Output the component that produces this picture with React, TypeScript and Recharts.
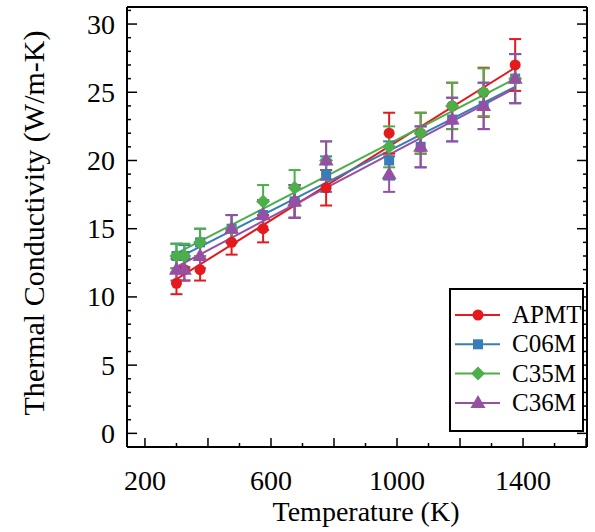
import React from 'react';
import {
  ComposedChart,
  Line,
  Scatter,
  ErrorBar,
  XAxis,
  YAxis,
  Legend,
} from 'recharts';

// temperatures (K)
const temps = [300, 325, 375, 475, 575, 675, 775, 975, 1075, 1175, 1275, 1375];

// thermal conductivity (W/m-K) and error half-widths
const apmt = [11, 12, 12, 14, 15, 17, 18, 22, 22, 24, 25, 27];
const apmtErr = [0.8, 0.8, 0.8, 0.9, 1.0, 1.2, 1.3, 1.5, 1.5, 1.7, 1.8, 1.9];
const c06m = [13, 13, 14, 15, 16, 17, 19, 20, 21, 23, 24, 26];
const c06mErr = [0.9, 0.8, 1.0, 1.0, 1.1, 1.2, 1.3, 1.4, 1.5, 1.6, 1.7, 1.8];
const c35m = [13, 13, 14, 15, 17, 18, 20, 21, 22, 24, 25, 26];
const c35mErr = [0.9, 0.9, 1.0, 1.0, 1.2, 1.3, 1.4, 1.5, 1.5, 1.7, 1.75, 1.8];
const c36m = [12, 12, 13, 15, 16, 17, 20, 19, 21, 23, 24, 26];
const c36mErr = [0.8, 0.8, 0.9, 1.0, 1.1, 1.2, 1.4, 1.3, 1.5, 1.6, 1.7, 1.8];

// linear fit end points
const fitX = [300, 1375];
const apmtFit = [11.3, 26.8];
const c06mFit = [12.8, 25.4];
const c35mFit = [13.2, 26.0];
const c36mFit = [12.2, 25.3];

// axis ticks
const xTicks = [200, 300, 400, 500, 600, 700, 800, 900, 1000, 1100, 1200, 1300, 1400, 1500, 1600];
const xLabels = [200, 600, 1000, 1400];
const yTicks = Array.from({ length: 32 }, (_, i) => i);
const yLabels = [0, 5, 10, 15, 20, 25, 30];

const FONT = "'Liberation Serif', 'Times New Roman', Times, serif";

const series = [
  { name: 'APMT', color: '#E41A1C', values: apmt, errs: apmtErr, fit: apmtFit, shape: 'circle' },
  { name: 'C06M', color: '#377EB8', values: c06m, errs: c06mErr, fit: c06mFit, shape: 'square' },
  { name: 'C35M', color: '#4DAF4A', values: c35m, errs: c35mErr, fit: c35mFit, shape: 'diamond' },
  { name: 'C36M', color: '#984EA3', values: c36m, errs: c36mErr, fit: c36mFit, shape: 'triangle' },
].map((s) => ({
  ...s,
  points: temps.map((t, i) => ({ x: t, y: s.values[i], err: s.errs[i] })),
  fitData: fitX.map((t, i) => ({ x: t, y: s.fit[i] })),
}));

const Marker = ({ shape, color, cx, cy }: any) => {
  if (cx == null || cy == null) return null;
  if (shape === 'circle') return <circle cx={cx} cy={cy} r={5.5} fill={color} />;
  if (shape === 'square') return <rect x={cx - 5} y={cy - 5} width={10} height={10} fill={color} />;
  if (shape === 'diamond')
    return <polygon points={`${cx},${cy - 7} ${cx + 7},${cy} ${cx},${cy + 7} ${cx - 7},${cy}`} fill={color} />;
  return <polygon points={`${cx},${cy - 8} ${cx + 7.5},${cy + 5} ${cx - 7.5},${cy + 5}`} fill={color} />;
};

const BottomTick = ({ x, y, payload }: any) => {
  const v = payload.value;
  const len = v % 200 === 0 ? 9 : 4;
  return (
    <g>
      <line x1={x} x2={x} y1={y} y2={y - len} stroke="#000" strokeWidth={1.5} />
      {xLabels.includes(v) && (
        <text x={x} y={y + 43} textAnchor="middle" fontSize={28} style={{ fontFamily: FONT }} fill="#000">
          {v}
        </text>
      )}
    </g>
  );
};

const TopTick = ({ x, y, payload }: any) => {
  const len = payload.value % 200 === 0 ? 9 : 4;
  return <line x1={x} x2={x} y1={y} y2={y + len} stroke="#000" strokeWidth={1.5} />;
};

const LeftTick = ({ x, y, payload }: any) => {
  const v = payload.value;
  const major = v % 5 === 0;
  return (
    <g>
      <line x1={x} x2={x + (major ? 10 : 4)} y1={y} y2={y} stroke="#000" strokeWidth={1.5} />
      {major && yLabels.includes(v) && (
        <text x={x - 12} y={y + 9.5} textAnchor="end" fontSize={28} style={{ fontFamily: FONT }} fill="#000">
          {v}
        </text>
      )}
    </g>
  );
};

const RightTick = ({ x, y, payload }: any) => {
  const len = payload.value % 5 === 0 ? 10 : 4;
  return <line x1={x} x2={x - len} y1={y} y2={y} stroke="#000" strokeWidth={1.5} />;
};

const LegendBox = () => (
  <svg width={135} height={144} style={{ display: 'block' }}>
    <rect x={1} y={1} width={133} height={142} fill="#fff" stroke="#000" strokeWidth={2} />
    {series.map((s, i) => {
      const cy = 27 + i * 29.3;
      return (
        <g key={s.name}>
          <line x1={6} x2={51} y1={cy} y2={cy} stroke={s.color} strokeWidth={2} />
          <Marker shape={s.shape} color={s.color} cx={29} cy={cy} />
          <text x={63} y={cy + 8} fontSize={25} style={{ fontFamily: FONT }} fill="#000">
            {s.name}
          </text>
        </g>
      );
    })}
  </svg>
);

export default function App() {
  return (
    <div style={{ position: 'absolute', left: 0, top: 0, background: '#fff', fontFamily: FONT }}>
      <ComposedChart
        width={595}
        height={532}
        margin={{ top: 6, right: 7, bottom: 0, left: 0 }}
        style={{ fontFamily: FONT }}
      >
        <XAxis
          dataKey="x"
          type="number"
          domain={[143, 1603]}
          allowDataOverflow
          ticks={xTicks}
          interval={0}
          height={85}
          tickSize={0}
          tickMargin={0}
          tickLine={false}
          tick={<BottomTick />}
          axisLine={{ stroke: '#000', strokeWidth: 2 }}
          label={{
            value: 'Temperature (K)',
            position: 'insideBottom',
            offset: 11,
            dx: 9,
            fontSize: 28,
            style: { fontFamily: FONT },
            fill: '#000',
          }}
        />
        <XAxis
          xAxisId="top"
          orientation="top"
          type="number"
          domain={[143, 1603]}
          allowDataOverflow
          ticks={xTicks}
          interval={0}
          height={1}
          tickSize={0}
          tickMargin={0}
          tickLine={false}
          tick={<TopTick />}
          axisLine={{ stroke: '#000', strokeWidth: 2 }}
        />
        <YAxis
          dataKey="y"
          type="number"
          domain={[-1, 31.25]}
          allowDataOverflow
          ticks={yTicks}
          interval={0}
          width={127}
          tickSize={0}
          tickMargin={0}
          tickLine={false}
          tick={<LeftTick />}
          axisLine={{ stroke: '#000', strokeWidth: 2 }}
          label={{
            value: 'Thermal Conductivity (W/m-K)',
            angle: -90,
            position: 'center',
            dx: -30,
            dy: -4,
            fontSize: 30,
            style: { fontFamily: FONT },
            fill: '#000',
          }}
        />
        <YAxis
          yAxisId="right"
          orientation="right"
          type="number"
          domain={[-1, 31.25]}
          allowDataOverflow
          ticks={yTicks}
          interval={0}
          width={1}
          tickSize={0}
          tickMargin={0}
          tickLine={false}
          tick={<RightTick />}
          axisLine={{ stroke: '#000', strokeWidth: 2 }}
        />
        {series.map((s) => (
          <Line
            key={`fit-${s.name}`}
            data={s.fitData}
            dataKey="y"
            stroke={s.color}
            strokeWidth={2}
            dot={false}
            activeDot={false}
            legendType="none"
            isAnimationActive={false}
          />
        ))}
        {series.map((s) => (
          <Scatter
            key={s.name}
            name={s.name}
            data={s.points}
            dataKey="y"
            fill={s.color}
            shape={(p: any) => <Marker shape={s.shape} color={s.color} cx={p.cx} cy={p.cy} />}
            isAnimationActive={false}
          >
            <ErrorBar
              dataKey="err"
              direction="y"
              width={6}
              stroke={s.color}
              strokeWidth={2}
              isAnimationActive={false}
            />
          </Scatter>
        ))}
        <Legend
          layout="vertical"
          align="center"
          verticalAlign="middle"
          wrapperStyle={{ position: 'absolute', left: 449, top: 288, width: 135, height: 144 }}
          content={() => <LegendBox />}
        />
      </ComposedChart>
    </div>
  );
}
